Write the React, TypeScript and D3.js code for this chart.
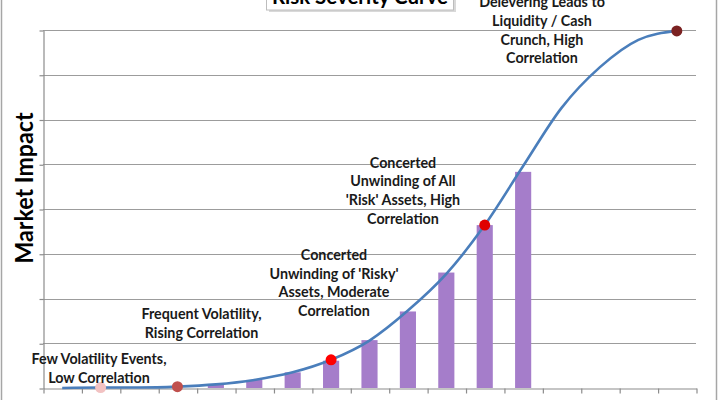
import React, { useEffect, useRef } from 'react';
import * as d3 from 'd3';

// 17 stress stages along the x axis (no tick labels shown)
const stages = d3.range(1, 18).map(String);

// smooth severity curve, value at each stage
const curveValues = [0, 0.01, 0.01, 0.03, 0.08, 0.18, 0.35, 0.63, 1.06, 1.73, 2.55, 3.64, 4.96, 6.26, 7.17, 7.78, 7.98];

// purple bars, only for the middle stages
const barValues = [null, null, null, null, 0.08, 0.18, 0.35, 0.61, 1.07, 1.71, 2.58, 3.64, 4.83, null, null, null, null];

// marked points on the curve: stage index and colour
const markers = [
  { stage: 1, color: '#f2c2c2' },
  { stage: 3, color: '#c0504d' },
  { stage: 7, color: '#ff0000' },
  { stage: 11, color: '#e00000' },
  { stage: 16, color: '#7b2222' },
];

const notes = [
  ['Few Volatility Events,', 'Low Correlation'],
  ['Frequent Volatility,', 'Rising Correlation'],
  ['Concerted', "Unwinding of 'Risky'", 'Assets, Moderate', 'Correlation'],
  ['Concerted', 'Unwinding of All', "'Risk' Assets, High", 'Correlation'],
  ['Delevering Leads to', 'Liquidity / Cash', 'Crunch, High', 'Correlation'],
];

// where each note sits (pixel centre x, first line centre y)
const noteLayout = [
  { x: 99, y: 359 },
  { x: 201.5, y: 314.3 },
  { x: 334, y: 255 },
  { x: 403, y: 162.7 },
  { x: 542, y: 2.3 },
];

const yTicks = d3.range(0, 9);

const App = () => {
  const ref = useRef<SVGSVGElement>(null);
  const width = 720;
  const height = 400;

  useEffect(() => {
    const svg = d3.select(ref.current);
    svg.selectAll('*').remove();

    const left = 43, right = 696, top = 30, bottom = 388;
    const font = 'Lato, "Open Sans", sans-serif';

    const x = d3.scaleBand().domain(stages).range([left, right]).padding(0);
    const xEdge = d3.scaleLinear().domain([0, stages.length]).range([left, right]);
    const y = d3.scaleLinear().domain([0, 8]).range([bottom, top]);
    const cx = (i: number) => (x(stages[i]) as number) + x.bandwidth() / 2;

    // chart frame sides
    svg.append('line').attr('x1', 1.5).attr('x2', 1.5).attr('y1', 0).attr('y2', height)
      .attr('stroke', '#a6a6a6').attr('stroke-width', 1.5);
    svg.append('line').attr('x1', 716.5).attr('x2', 716.5).attr('y1', 0).attr('y2', height)
      .attr('stroke', '#a6a6a6').attr('stroke-width', 1.5);

    // gridlines
    svg.append('g')
      .selectAll('line')
      .data(yTicks.slice(1))
      .join('line')
      .attr('x1', left).attr('x2', right)
      .attr('y1', d => Math.round(y(d)) + 0.5).attr('y2', d => Math.round(y(d)) + 0.5)
      .attr('stroke', '#9c9c9c').attr('stroke-width', 1.2);

    // y axis, ticks only
    const ya = svg.append('g').attr('transform', `translate(${left + 0.5},0.5)`)
      .call(d3.axisLeft(y).tickValues(yTicks).tickSize(4).tickSizeOuter(0).tickFormat(() => ''));
    ya.selectAll('path,line').attr('stroke', '#8c8c8c').attr('stroke-width', 1.2);

    // bars
    const bw = x.bandwidth() * 0.42;
    svg.append('g')
      .selectAll('rect')
      .data(barValues.map((v, i) => ({ v, i })).filter(d => d.v !== null))
      .join('rect')
      .attr('x', d => cx(d.i) - bw / 2)
      .attr('width', bw)
      .attr('y', d => y(d.v as number))
      .attr('height', d => bottom - y(d.v as number))
      .attr('fill', '#a57dca');

    // x axis with ticks on band edges
    const xa = svg.append('g').attr('transform', `translate(0.5,${bottom + 0.5})`)
      .call(d3.axisBottom(xEdge).tickValues(d3.range(0, stages.length + 1)).tickSize(5).tickSizeOuter(0).tickFormat(() => ''));
    xa.selectAll('path,line').attr('stroke', '#8c8c8c').attr('stroke-width', 1.2);

    // severity curve
    const line = d3.line<number>()
      .x((_, i) => cx(i))
      .y(d => y(d))
      .curve(d3.curveMonotoneX);
    svg.append('path')
      .datum(curveValues)
      .attr('fill', 'none')
      .attr('stroke', '#4a7ebb')
      .attr('stroke-width', 2.6)
      .attr('d', line);

    svg.append('g')
      .selectAll('circle')
      .data(markers)
      .join('circle')
      .attr('cx', d => cx(d.stage))
      .attr('cy', d => y(curveValues[d.stage]))
      .attr('r', 5.5)
      .attr('fill', d => d.color);

    // annotations
    notes.forEach((lines, k) => {
      const t = svg.append('text')
        .attr('font-family', font)
        .attr('font-weight', 'bold')
        .attr('font-size', 14.3)
        .attr('fill', '#1a1a1a')
        .attr('text-anchor', 'middle');
      lines.forEach((s, j) => {
        t.append('tspan')
          .attr('x', noteLayout[k].x)
          .attr('y', noteLayout[k].y + 5 + j * 18.6)
          .text(s);
      });
    });

    // y axis title
    svg.append('text')
      .attr('transform', `translate(33,188) rotate(-90)`)
      .attr('text-anchor', 'middle')
      .attr('font-family', font)
      .attr('font-size', 25)
      .attr('font-weight', 'bold')
      .attr('textLength', 151)
      .attr('lengthAdjust', 'spacingAndGlyphs')
      .attr('fill', '#000')
      .text('Market Impact');

    // chart title box, cut by the top edge
    svg.append('rect')
      .attr('x', 269).attr('y', -22).attr('width', 187).attr('height', 34)
      .attr('fill', '#d0d0d0').attr('opacity', 0.8);
    svg.append('rect')
      .attr('x', 266.5).attr('y', -24).attr('width', 187).attr('height', 34)
      .attr('fill', '#fff').attr('stroke', '#bdbdbd');
    svg.append('text')
      .attr('x', 360).attr('y', 4)
      .attr('text-anchor', 'middle')
      .attr('font-family', font)
      .attr('font-weight', 'bold')
      .attr('font-size', 21)
      .attr('textLength', 176)
      .attr('lengthAdjust', 'spacingAndGlyphs')
      .attr('fill', '#000')
      .text('Risk Severity Curve');
  }, []);

  return (
    <svg
      ref={ref}
      width={width}
      height={height}
      style={{ position: 'absolute', left: 0, top: 0, background: '#fff' }}
    />
  );
};

export default App;
